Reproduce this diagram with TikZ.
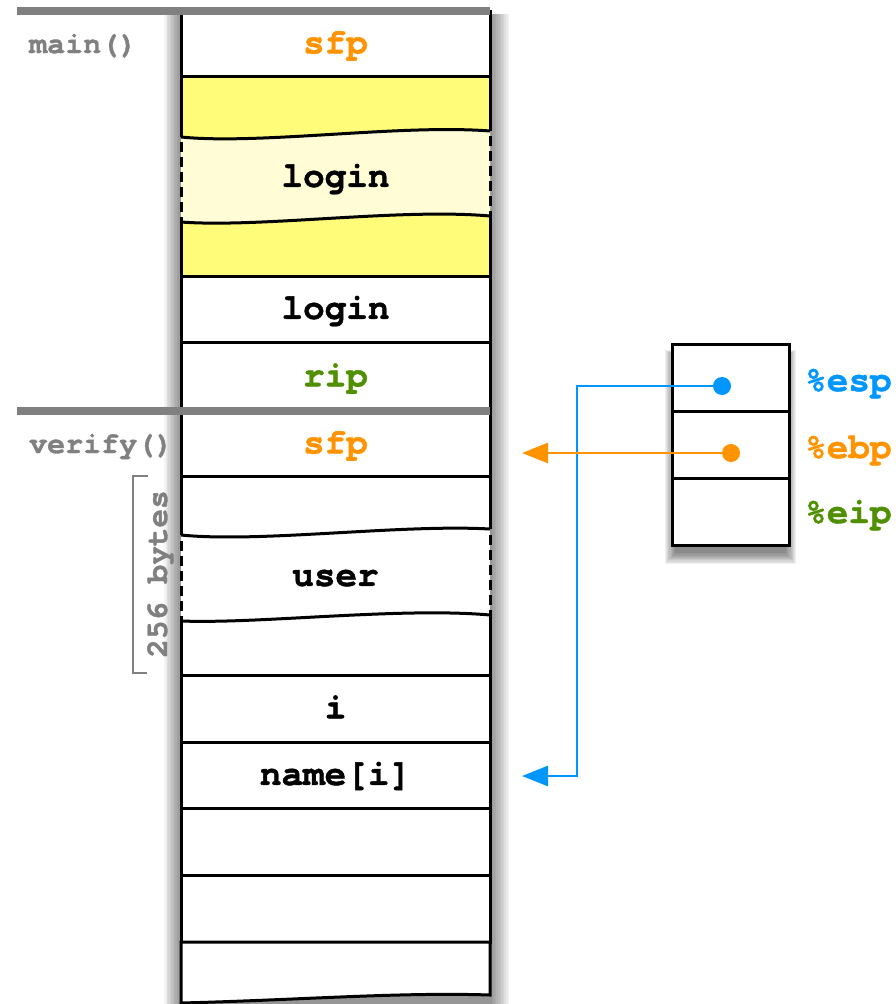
\documentclass[tikz,border=0pt]{standalone}
\usepackage{fontspec}
\newfontfamily\mono{TeX Gyre Cursor}[BoldFeatures={FakeBold=1.2}]
\usetikzlibrary{arrows.meta}
\definecolor{cOrange}{HTML}{FF9300}
\definecolor{cBlue}{HTML}{0096FF}
\definecolor{cGreen}{HTML}{4F8F00}
\definecolor{cGray}{HTML}{808080}
\definecolor{cYellow}{HTML}{FFFC79}
\definecolor{cLight}{HTML}{FFFCD6}
\begin{document}
\begin{tikzpicture}[x=1pt,y=-1pt,
  every node/.style={font=\mono\bfseries\fontsize{36}{40}\selectfont},
  stackrow/.style={draw, line width=3pt, fill=white, minimum width=309pt, minimum height=#1,
    inner sep=0pt, text height=25.2pt, text depth=5.4pt},
  regrow/.style={draw, line width=3pt, fill=white, minimum width=117pt, minimum height=67pt, inner sep=0pt},
  txt/.style={inner sep=0pt, text height=25.2pt, text depth=5.4pt},
  glabel/.style={inner sep=0pt, text=cGray, font=\mono\bfseries\fontsize{30}{34}\selectfont},
  edge3/.style={line width=3pt, line join=miter},
  dashside/.style={line width=3pt, dash pattern=on 10pt off 5pt},
  sep/.style={cGray, line width=8pt},
  dot/.style={circle, fill=#1, minimum size=18pt, inner sep=0pt},
  ptr/.style={#1, line width=2.8pt, -{Triangle[length=26pt,width=20pt]}},
  reglabel/.style={anchor=base west, inner sep=0pt, text=#1}
]
\useasboundingbox (0,0) rectangle (895,1004);

% column shadow
\foreach \i in {1,...,12}{
  \fill[black, opacity=0.045] (181-1.4*\i,14) rectangle (490+1.6*\i,1004);
}
% register box shadow
\foreach \i in {1,...,10}{
  \fill[black, opacity=0.06] (676-1.1*\i,356-0.6*\i) rectangle (785+1.1*\i,552+1.2*\i);
}

% main() frame
\node[stackrow=65pt] (mainsfp) at (335.5,43.5) {\textcolor{cOrange}{sfp}};

% login buffer (yellow, cut)
\fill[cYellow] (181,76) -- (490,76) -- (490,131) .. controls (400,124) and (260,145) .. (181,137) -- cycle;
\fill[cLight] (181,137) .. controls (260,145) and (400,124) .. (490,131) -- (490,216)
   .. controls (400,208) and (260,228) .. (181,222) -- cycle;
\fill[cYellow] (181,222) .. controls (260,228) and (400,208) .. (490,216) -- (490,276) -- (181,276) -- cycle;
\draw[edge3] (181,137) -- (181,76) -- (490,76) -- (490,131);
\draw[line width=3pt] (181,137) .. controls (260,145) and (400,124) .. (490,131);
\draw[dashside] (181,142) -- (181,222);
\draw[dashside] (490,136) -- (490,216);
\draw[line width=3pt] (181,222) .. controls (260,228) and (400,208) .. (490,216);
\draw[edge3] (181,222) -- (181,276) -- (490,276) -- (490,216);
\node[txt] (login1) at (335.5,177) {login};

\node[stackrow=66pt] (login2) at (335.5,309) {login};
\node[stackrow=69pt] (mainrip) at (335.5,376.5) {\textcolor{cGreen}{rip}};

% verify() frame
\node[stackrow=65pt] (versfp) at (335.5,443.5) {\textcolor{cOrange}{sfp}};

% user buffer (cut)
\fill[white] (181,476) rectangle (490,675);
\draw[edge3] (181,535) -- (181,476) -- (490,476) -- (490,529);
\draw[line width=3pt] (181,535) .. controls (260,543) and (400,524) .. (490,529);
\draw[dashside] (181,541) -- (181,621);
\draw[dashside] (490,535) -- (490,615);
\draw[line width=3pt] (181,621) .. controls (260,624) and (400,607) .. (490,615);
\draw[edge3] (181,621) -- (181,675) -- (490,675) -- (490,615);
\node[txt] (user) at (335.5,576) {user};

\node[stackrow=67pt] (vari) at (335.5,708.5) {i};
\node[stackrow=66pt] (varname) at (335.5,775) {name[i]};
\node[stackrow=67pt] (empty1) at (335.5,841.5) {};
\node[stackrow=67pt] (empty2) at (335.5,908.5) {};
\filldraw[edge3, fill=white] (181,942) -- (490,942) -- (490,995)
   .. controls (400,992) and (300,1000) .. (181,1003) -- cycle;

% frame separators
\draw[sep] (17,11) -- (490,11);
\draw[sep] (17,411) -- (490,411);
\node[glabel, anchor=base west] (lmain) at (29,53) {main()};
\node[glabel, anchor=base west] (lverify) at (29,453) {verify()};

% 256 bytes bracket
\draw[cGray, line width=2.5pt] (148,476) -- (133,476) -- (133,673) -- (147,673);
\node[glabel, rotate=90, anchor=base, font=\mono\bfseries\fontsize{31}{34}\selectfont] (lbytes) at (167,574) {256 bytes};

% registers
\node[regrow] (resp) at (730.5,377.5) {};
\node[regrow] (rebp) at (730.5,444.5) {};
\node[regrow] (reip) at (730.5,511.5) {};
\node[reglabel=cBlue] (lesp) at (805,391) {\%esp};
\node[reglabel=cOrange] (lebp) at (805,458) {\%ebp};
\node[reglabel=cGreen] (leip) at (805,523) {\%eip};

% pointers
\node[dot=cBlue] (espdot) at (722,386) {};
\node[dot=cOrange] (ebpdot) at (731,453) {};
\coordinate (espbend) at (577,386);
\coordinate (esptip) at (522,776);
\coordinate (ebptip) at (522,453);
\draw[ptr=cBlue] (espdot.center) -- (espbend) |- (esptip);
\draw[ptr=cOrange] (ebpdot.center) -- (ebptip);
\end{tikzpicture}
\end{document}
